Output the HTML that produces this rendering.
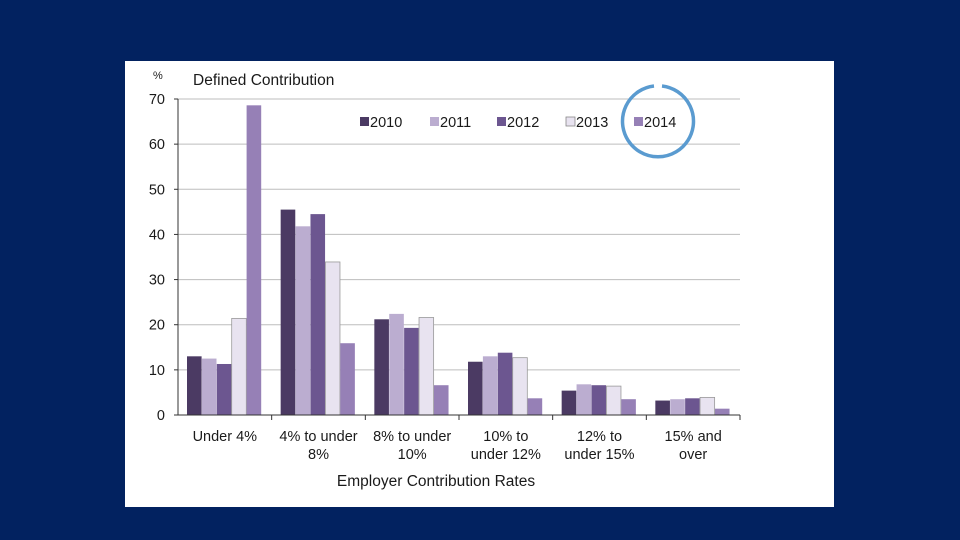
<!DOCTYPE html>
<html><head><meta charset="utf-8"><style>
html,body{margin:0;padding:0;background:#022260;width:960px;height:540px;overflow:hidden}
svg{display:block}
text{font-family:"Liberation Sans",sans-serif;fill:#1a1a1a}
</style></head><body>
<svg width="960" height="540">
<rect x="0" y="0" width="960" height="540" fill="#022260"/>
<rect x="125" y="61" width="709" height="446" fill="#fff"/>
<g id="chart"></g>
</svg>
<script>
const categories=[["Under 4%"],["4% to under","8%"],["8% to under","10%"],["10% to","under 12%"],["12% to","under 15%"],["15% and","over"]];
const seriesNames=["2010","2011","2012","2013","2014"];
const s2010=[13,45.5,21.2,11.8,5.4,3.2];
const s2011=[12.5,41.8,22.4,13,6.8,3.5];
const s2012=[11.3,44.5,19.3,13.8,6.6,3.7];
const s2013=[21.4,33.9,21.6,12.7,6.4,3.9];
const s2014=[68.6,15.9,6.6,3.7,3.5,1.4];
const yTicks=[0,10,20,30,40,50,60,70];
const series=[s2010,s2011,s2012,s2013,s2014];
const colors=["#4b3a63","#bbadd0","#6c5690","#e8e3f0","#9680b6"];
const NS="http://www.w3.org/2000/svg";
const g=document.getElementById('chart');
const x0=178,x1=740,y0=415,y1=99,yMax=70;
const catW=(x1-x0)/categories.length;
function y(v){return y0-(v/yMax)*(y0-y1);}
function xc(i){return x0+i*catW;}
function mk(t,a,txt){const e=document.createElementNS(NS,t);for(const k in a)e.setAttribute(k,a[k]);if(txt!=null)e.textContent=txt;g.appendChild(e);return e;}
yTicks.forEach(t=>{
 if(t>0){const l=mk('line',{x1:x0,x2:x1,y1:y(t),y2:y(t),stroke:'#bdbdbd','stroke-width':1});
 
 }
 const tk=mk('line',{x1:x0-4,x2:x0,y1:y(t),y2:y(t),stroke:'#333'});
 
 
 const tl=mk('text',{x:x0-13,y:y(t)+5,'text-anchor':'end','font-size':14.5},t);
 
 
});
const bw=14.6,off=9;
categories.forEach((c,i)=>{
 series.forEach((s,j)=>{
  const r=mk('rect',{x:xc(i)+off+j*(bw+0.3),y:y(s[i]),width:bw,height:y0-y(s[i]),fill:colors[j],stroke:j===3?'#999':'none','stroke-width':j===3?0.8:0});
  
  
 });
 const tk=mk('line',{x1:xc(i+1),x2:xc(i+1),y1:y0,y2:y0+5,stroke:'#333'});
 
 
 c.forEach((ln,k)=>{
  const t=mk('text',{x:xc(i)+catW/2,y:441+k*18,'text-anchor':'middle','font-size':14.5},ln);
  
  
 });
});
const ax=mk('line',{x1:x0,x2:x0,y1:y1,y2:y0,stroke:'#333'});


const xa=mk('line',{x1:x0-4,x2:x1,y1:y0,y2:y0,stroke:'#333'});


const xt=mk('text',{x:436,y:486,'text-anchor':'middle','font-size':15.5},'Employer Contribution Rates');


const yt=mk('text',{x:153,y:79,'font-size':11},'%');


const tt=mk('text',{x:193,y:85,'font-size':15.5},'Defined Contribution');


const lx=[360,430,497,566,634];
seriesNames.forEach((n,j)=>{
 const r=mk('rect',{x:lx[j],y:117,width:9,height:9,fill:colors[j],stroke:j===3?'#888':'none','stroke-width':0.8});
 
 
 const t=mk('text',{x:lx[j]+10,y:127,'font-size':14.5},n);
 
 
});
const circ=mk('path',{d:'M 654 86 A 35.5 35.5 0 1 0 662 86',fill:'none',stroke:'#5a9bd0','stroke-width':3.5});


</script>
</body></html>
